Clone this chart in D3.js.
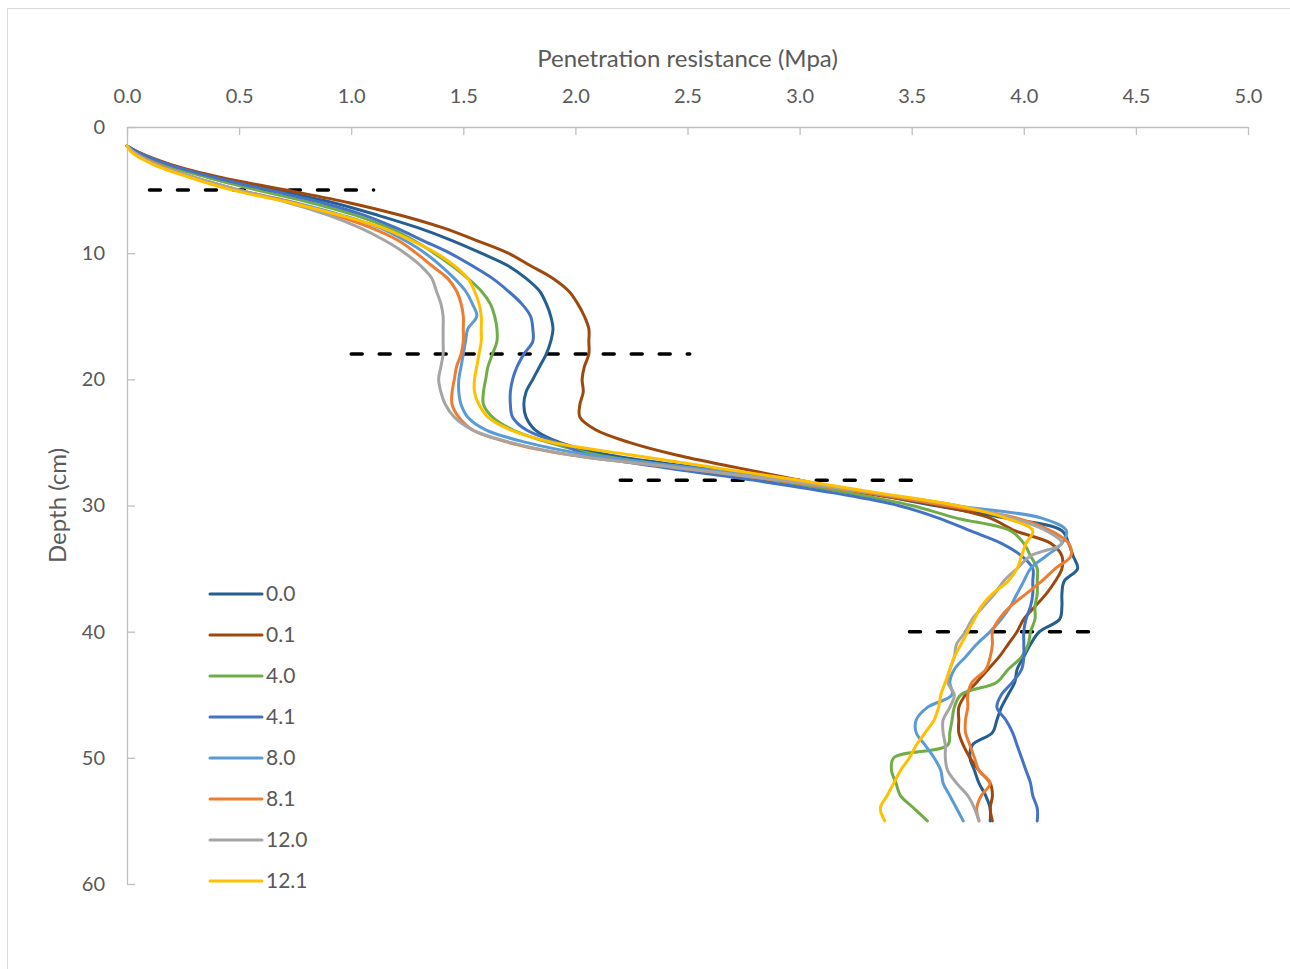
<!DOCTYPE html>
<html>
<head>
<meta charset="utf-8">
<script src="https://cdn.jsdelivr.net/npm/d3@7"></script>
<style>
  html, body { margin: 0; padding: 0; background: #fff; }
  svg { display: block; }
  text { font-family: Lato, "Open Sans", sans-serif; fill: #595959; }
</style>
</head>
<body>
<svg id="chart" width="1290" height="969"></svg>
<script>
// ---------- data ----------
const depths = [1.5,2,3,4,5,6,7,8,9,10,11,12,13,14,15,16,17,18,19,20,21,22,23,24,25,26,27,28,29,30,31,32,33,34,35,36,37,38,39,40,41,42,43,44,45,46,47,48,49,50,51,52,53,54,55];

const s00  = [0,0.05,0.19,0.40,0.66,0.92,1.12,1.30,1.45,1.58,1.70,1.78,1.84,1.87,1.89,1.90,1.89,1.87,1.84,1.81,1.78,1.77,1.78,1.82,1.93,2.15,2.55,2.95,3.30,3.60,3.92,4.17,4.20,4.22,4.24,4.18,4.17,4.17,4.16,4.07,4.03,4.00,3.97,3.96,3.93,3.90,3.88,3.86,3.77,3.76,3.78,3.80,3.83,3.85,3.85];
const s01  = [0,0.05,0.20,0.42,0.71,0.99,1.22,1.41,1.56,1.70,1.80,1.90,1.97,2.01,2.04,2.06,2.06,2.06,2.04,2.03,2.035,2.02,2.02,2.09,2.24,2.45,2.72,3.00,3.28,3.62,3.85,3.96,4.12,4.17,4.17,4.14,4.10,4.05,4.00,3.97,3.93,3.89,3.84,3.79,3.74,3.71,3.71,3.71,3.73,3.76,3.80,3.85,3.86,3.85,3.86];
const s40  = [0,0.04,0.17,0.36,0.58,0.82,1.02,1.17,1.28,1.37,1.45,1.52,1.58,1.62,1.64,1.65,1.65,1.63,1.61,1.60,1.59,1.59,1.63,1.72,1.88,2.10,2.48,2.88,3.22,3.50,3.70,3.94,4.00,4.03,4.06,4.06,4.06,4.05,4.05,4.03,4.02,3.99,3.93,3.88,3.72,3.69,3.68,3.67,3.66,3.42,3.41,3.43,3.45,3.51,3.57];
const s41  = [0,0.05,0.19,0.39,0.63,0.87,1.06,1.20,1.32,1.44,1.54,1.63,1.70,1.76,1.80,1.81,1.81,1.77,1.74,1.72,1.71,1.71,1.72,1.78,1.92,2.06,2.40,2.80,3.15,3.44,3.62,3.76,3.90,3.99,4.04,4.04,4.04,4.03,4.01,4.00,4.00,4.00,3.99,3.95,3.90,3.88,3.92,3.95,3.97,3.99,4.01,4.03,4.04,4.06,4.06];
const s80  = [0,0.03,0.14,0.30,0.50,0.75,0.96,1.13,1.24,1.33,1.40,1.46,1.51,1.54,1.56,1.52,1.51,1.50,1.49,1.48,1.48,1.49,1.52,1.60,1.78,2.06,2.52,2.95,3.33,3.68,4.08,4.19,4.17,4.10,4.03,4.00,3.97,3.94,3.90,3.85,3.79,3.74,3.69,3.67,3.68,3.57,3.52,3.52,3.56,3.60,3.63,3.64,3.67,3.70,3.73];
const s81  = [0,0.03,0.14,0.30,0.50,0.74,0.93,1.09,1.21,1.29,1.36,1.43,1.47,1.49,1.50,1.50,1.50,1.49,1.47,1.46,1.45,1.45,1.48,1.54,1.70,1.98,2.45,2.90,3.30,3.65,3.97,4.12,4.20,4.21,4.14,4.08,4.01,3.94,3.89,3.86,3.86,3.85,3.83,3.77,3.75,3.75,3.74,3.74,3.76,3.78,3.80,3.85,3.81,3.79,3.80];
const s120 = [0,0.03,0.13,0.30,0.50,0.72,0.90,1.04,1.15,1.24,1.31,1.36,1.38,1.40,1.41,1.41,1.41,1.41,1.40,1.39,1.40,1.42,1.46,1.54,1.71,1.98,2.45,2.92,3.33,3.70,3.95,4.10,4.17,4.03,3.97,3.91,3.87,3.82,3.77,3.74,3.70,3.69,3.67,3.66,3.69,3.67,3.64,3.64,3.65,3.65,3.66,3.70,3.75,3.78,3.80];
const s121 = [0,0.02,0.12,0.28,0.47,0.73,0.95,1.14,1.27,1.38,1.46,1.52,1.55,1.57,1.58,1.58,1.58,1.57,1.56,1.55,1.55,1.57,1.61,1.71,1.90,2.25,2.62,3.00,3.35,3.70,3.92,4.04,4.01,3.99,3.97,3.93,3.86,3.81,3.78,3.75,3.72,3.69,3.67,3.65,3.63,3.62,3.60,3.56,3.52,3.49,3.45,3.42,3.39,3.36,3.38];

const seriesNames  = ["0.0","0.1","4.0","4.1","8.0","8.1","12.0","12.1"];
const seriesValues = [s00, s01, s40, s41, s80, s81, s120, s121];
const seriesColors = ["#255E91","#9E480E","#70AD47","#4472C4","#5B9BD5","#ED7D31","#A5A5A5","#FFC000"];

const xTicks = [0,0.5,1,1.5,2,2.5,3,3.5,4,4.5,5];
const yTicks = [0,10,20,30,40,50,60];

// horizontal dashed reference lines: depth, start, end (MPa)
const refDepth = [5, 18, 28, 40];
const refFrom  = [0.1, 1.0, 2.2, 3.49];
const refTo    = [1.1, 2.51, 3.5, 4.31];

const xTitle = "Penetration resistance (Mpa)";
const yTitle = "Depth (cm)";

// ---------- drawing ----------
const FONT = 'Lato, "Open Sans", sans-serif';
const svg = d3.select("#chart");
const L = 127, R = 1248, T = 127, B = 884;

svg.append("rect")
  .attr("x", 7.5).attr("y", 8.5).attr("width", 1300).attr("height", 980)
  .attr("fill", "#fff").attr("stroke", "#d9d9d9").attr("stroke-width", 1);

const x = d3.scaleLinear().domain([0, 5]).range([L, R]);
const y = d3.scaleLinear().domain([0, 60]).range([T, B]);

const xAxis = svg.append("g").attr("transform", `translate(0,${T})`)
  .call(d3.axisTop(x).tickValues(xTicks).tickFormat(d3.format(".1f"))
        .tickSize(-8).tickSizeOuter(0).tickPadding(24));
const yAxis = svg.append("g").attr("transform", `translate(${L},0)`)
  .call(d3.axisLeft(y).tickValues(yTicks).tickFormat(d3.format("d"))
        .tickSize(-8).tickSizeOuter(0).tickPadding(22));

[xAxis, yAxis].forEach(g => {
  g.select(".domain").attr("stroke", "#bfbfbf").attr("stroke-width", 1.3);
  g.selectAll(".tick line").attr("stroke", "#bfbfbf").attr("stroke-width", 1.3);
  g.selectAll(".tick text").attr("fill", "#595959")
    .style("font-family", FONT).style("font-size", "20px");
});

svg.append("text").attr("x", (L + R) / 2).attr("y", 67)
  .attr("text-anchor", "middle").style("font-size", "24px").text(xTitle);
svg.append("text").attr("transform", `translate(66,${(T + B) / 2}) rotate(-90)`)
  .attr("text-anchor", "middle").style("font-size", "24px").text(yTitle);

// dashed reference lines
refDepth.forEach((d, i) => {
  svg.append("line")
    .attr("x1", x(refFrom[i])).attr("x2", x(refTo[i]))
    .attr("y1", y(d)).attr("y2", y(d))
    .attr("stroke", "#000").attr("stroke-width", 3.5)
    .attr("stroke-dasharray", "11,17").attr("stroke-linecap", "round");
});

// series
const line = d3.line()
  .x(d => x(d[1])).y(d => y(d[0]))
  .curve(d3.curveCatmullRom.alpha(0.5));

seriesValues.forEach((vals, i) => {
  const pts = depths.map((d, j) => [d, vals[j]]);
  svg.append("path").datum(pts)
    .attr("d", line).attr("fill", "none")
    .attr("stroke", seriesColors[i]).attr("stroke-width", 3)
    .attr("stroke-linejoin", "round").attr("stroke-linecap", "round");
});

// legend
const lg = svg.append("g");
seriesNames.forEach((n, i) => {
  const yy = 594 + i * 41;
  lg.append("line").attr("x1", 210).attr("x2", 262).attr("y1", yy).attr("y2", yy)
    .attr("stroke", seriesColors[i]).attr("stroke-width", 3).attr("stroke-linecap", "round");
  lg.append("text").attr("x", 266).attr("y", yy).attr("dy", "0.35em")
    .style("font-size", "21px").text(n);
});
</script>
</body>
</html>
